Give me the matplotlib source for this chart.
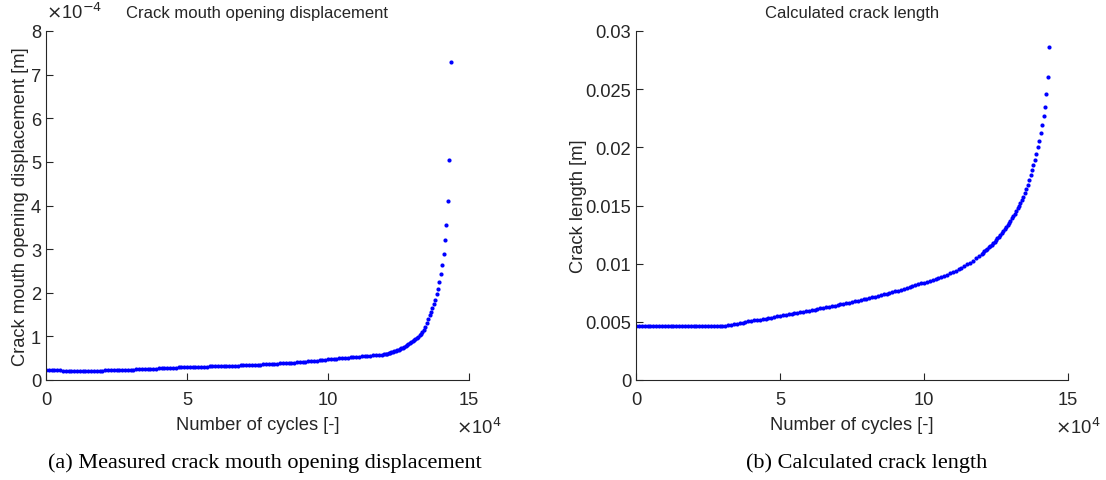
import numpy as np
import matplotlib
matplotlib.use("Agg")
import matplotlib.pyplot as plt

# Load cycles: every 1000 cycles up to 120000, then every 500 cycles
cycles_body = list(range(0, 120001, 1000))
cycles_tail = list(range(120500, 143501, 500))
cycles = np.array(cycles_body + cycles_tail, dtype=float)

# Measured crack mouth opening displacement [x1e-4 m]
cmod_e4 = [
    0.240, 0.235, 0.230, 0.225, 0.220, 0.218, 0.215, 0.213, 0.212, 0.211,
    0.210, 0.210, 0.210, 0.210, 0.210, 0.211, 0.212, 0.213, 0.214, 0.215,
    0.216, 0.218, 0.220, 0.222, 0.224, 0.226, 0.228, 0.230, 0.232, 0.234,
    0.236, 0.239, 0.242, 0.245, 0.248, 0.251, 0.254, 0.257, 0.260, 0.263,
    0.266, 0.269, 0.272, 0.275, 0.278, 0.281, 0.284, 0.287, 0.290, 0.293,
    0.295, 0.297, 0.299, 0.301, 0.303, 0.305, 0.307, 0.309, 0.311, 0.313,
    0.315, 0.317, 0.319, 0.321, 0.323, 0.325, 0.327, 0.329, 0.331, 0.333,
    0.335, 0.338, 0.341, 0.344, 0.347, 0.350, 0.353, 0.356, 0.360, 0.364,
    0.368, 0.372, 0.376, 0.380, 0.384, 0.388, 0.392, 0.396, 0.400, 0.405,
    0.410, 0.415, 0.420, 0.426, 0.432, 0.438, 0.444, 0.451, 0.458, 0.466,
    0.474, 0.479, 0.484, 0.489, 0.494, 0.499, 0.505, 0.511, 0.517, 0.523,
    0.530, 0.536, 0.542, 0.548, 0.554, 0.560, 0.566, 0.572, 0.578, 0.584,
    0.590,
    # 500-cycle spacing from 120500
    0.598, 0.607, 0.616, 0.626, 0.636, 0.647, 0.659, 0.671, 0.684, 0.698,
    0.712, 0.727, 0.743, 0.760, 0.778, 0.797, 0.817, 0.838, 0.860, 0.884,
    0.910, 0.937, 0.966, 0.997, 1.030, 1.065, 1.103, 1.145, 1.205, 1.300,
    1.390, 1.480, 1.570, 1.660, 1.750, 1.840, 1.960, 2.090, 2.250, 2.420,
    2.630, 2.880, 3.200, 3.560, 4.100, 5.050, 7.300,
]

# Calculated crack length [m]
crack_len = [
    0.00468, 0.00468, 0.00468, 0.00468, 0.00468, 0.00468, 0.00468, 0.00468,
    0.00468, 0.00468, 0.00468, 0.00468, 0.00468, 0.00468, 0.00468, 0.00468,
    0.00468, 0.00468, 0.00468, 0.00468, 0.00468, 0.00468, 0.00468, 0.00468,
    0.00468, 0.00468, 0.00468, 0.00468, 0.00468, 0.00468, 0.00468, 0.00468,
    0.00469, 0.00473, 0.00478, 0.00483, 0.00488, 0.00493, 0.00498, 0.00503,
    0.00508, 0.00512, 0.00516, 0.00520, 0.00524, 0.00528, 0.00533, 0.00537,
    0.00542, 0.00547, 0.00552, 0.00556, 0.00561, 0.00565, 0.00570, 0.00574,
    0.00579, 0.00583, 0.00588, 0.00592, 0.00597, 0.00601, 0.00606, 0.00610,
    0.00615, 0.00620, 0.00624, 0.00629, 0.00634, 0.00639, 0.00644, 0.00649,
    0.00654, 0.00659, 0.00664, 0.00669, 0.00675, 0.00680, 0.00686, 0.00692,
    0.00698, 0.00704, 0.00710, 0.00716, 0.00722, 0.00728, 0.00735, 0.00741,
    0.00748, 0.00755, 0.00762, 0.00769, 0.00776, 0.00784, 0.00792, 0.00800,
    0.00808, 0.00816, 0.00824, 0.00832, 0.00835, 0.00843, 0.00851, 0.00859,
    0.00867, 0.00876, 0.00885, 0.00895, 0.00905, 0.00916, 0.00927, 0.00939,
    0.00952, 0.00965, 0.00979, 0.00994, 0.01010, 0.01027, 0.01045, 0.01064,
    0.01084,
    # 500-cycle spacing from 120500
    0.01094, 0.01105, 0.01116, 0.01127, 0.01139, 0.01151, 0.01164, 0.01177,
    0.01190, 0.01204, 0.01218, 0.01233, 0.01248, 0.01264, 0.01280, 0.01297,
    0.01314, 0.01332, 0.01351, 0.01370, 0.01390, 0.01410, 0.01431, 0.01453,
    0.01476, 0.01499, 0.01522, 0.01546, 0.01570, 0.01605, 0.01642, 0.01679,
    0.01719, 0.01760, 0.01803, 0.01846, 0.01894, 0.01946, 0.02000, 0.02057,
    0.02120, 0.02192, 0.02267, 0.02350, 0.02456, 0.02607, 0.02863,
]

x_ticks = [0, 50000, 100000, 150000]
x_tick_labels = ["0", "5", "10", "15"]
cmod_ticks = [0, 1e-4, 2e-4, 3e-4, 4e-4, 5e-4, 6e-4, 7e-4, 8e-4]
cmod_tick_labels = ["0", "1", "2", "3", "4", "5", "6", "7", "8"]
len_ticks = [0, 0.005, 0.01, 0.015, 0.02, 0.025, 0.03]
len_tick_labels = ["0", "0.005", "0.01", "0.015", "0.02", "0.025", "0.03"]

TXT = "#262626"
plt.rcParams["font.family"] = ["Liberation Sans", "DejaVu Sans"]
FS = 13.2

W, H = 1106, 481
fig = plt.figure(figsize=(W / 100, H / 100), dpi=100)


def make_axes(x0, x1, y0, y1):
    ax = fig.add_axes([x0 / W, 1 - y1 / H, (x1 - x0) / W, (y1 - y0) / H])
    for s in ("top", "right"):
        ax.spines[s].set_visible(False)
    for s in ("left", "bottom"):
        ax.spines[s].set_color(TXT)
        ax.spines[s].set_linewidth(0.8)
    ax.tick_params(direction="in", length=5, width=0.8, colors=TXT,
                   labelcolor=TXT, labelsize=FS)
    ax.tick_params(axis="x", pad=8)
    ax.tick_params(axis="y", pad=3.5)
    ax.set_xlim(0, 150000)
    ax.set_xticks(x_ticks)
    ax.set_xticklabels(x_tick_labels)
    ax.text(1.0 + 10 / (x1 - x0), -0.135, r"$\times$10$^{4}$",
            transform=ax.transAxes, ha="center", va="center",
            fontsize=FS, color=TXT)
    ax.set_xlabel("Number of cycles [-]", color=TXT, fontsize=FS, labelpad=6)
    return ax


cmod = np.array(cmod_e4) * 1e-4

# (a) crack mouth opening displacement
ax1 = make_axes(46, 469, 32, 381)
ax1.plot(cycles, cmod, linestyle="none", marker="o", markersize=3.0,
         markeredgewidth=0, color="#0000ff")
ax1.set_ylim(0, 8e-4)
ax1.set_yticks(cmod_ticks)
ax1.set_yticklabels(cmod_tick_labels)
ax1.set_ylabel("Crack mouth opening displacement [m]", color=TXT,
               fontsize=FS, labelpad=1.5)
ax1.set_title("Crack mouth opening displacement", color=TXT, fontsize=12,
              pad=10)
ax1.text(0.0, 1.055, r"$\times$10$^{-4}$", transform=ax1.transAxes,
         ha="left", va="center", fontsize=FS, color=TXT)

# (b) calculated crack length
ax2 = make_axes(636, 1068, 32, 381)
ax2.plot(cycles, crack_len, linestyle="none", marker="o", markersize=3.0,
         markeredgewidth=0, color="#0000ff")
ax2.set_ylim(0, 0.03)
ax2.set_yticks(len_ticks)
ax2.set_yticklabels(len_tick_labels)
ax2.set_ylabel("Crack length [m]", color=TXT, fontsize=FS, labelpad=-1)
ax2.set_title("Calculated crack length", color=TXT, fontsize=12, pad=10)

# Sub-figure captions
fig.text(265 / W, 1 - 463 / H, "(a) Measured crack mouth opening displacement",
         ha="center", va="center", fontsize=16, family="Liberation Serif",
         color="black")
fig.text(867 / W, 1 - 463 / H, "(b) Calculated crack length",
         ha="center", va="center", fontsize=16, family="Liberation Serif",
         color="black")

fig.savefig("out.png", dpi=100)
